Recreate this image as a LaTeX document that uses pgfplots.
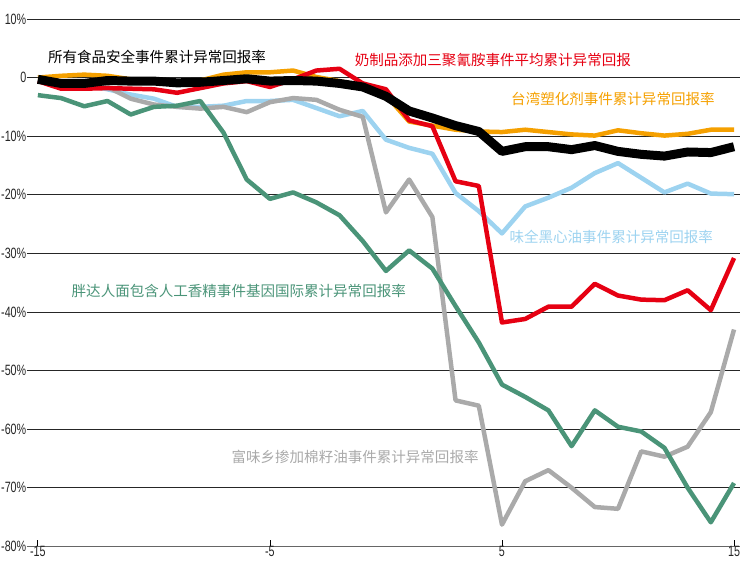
\documentclass[border=0pt]{standalone}
\usepackage{pgfplots}
\pgfplotsset{compat=1.18}
\usepackage{fontspec}
\newfontfamily\cjk{Noto Sans CJK SC}
\newfontfamily\cond[FakeStretch=0.72]{Liberation Sans}

\definecolor{cred}{HTML}{E60012}
\definecolor{corange}{HTML}{F5A000}
\definecolor{cblue}{HTML}{9DD3F0}
\definecolor{cgreen}{HTML}{4A9478}
\definecolor{cgray}{HTML}{AAAAAA}

\begin{document}
\begin{tikzpicture}
  \begin{axis}[
    at={(0,0)}, anchor=south west,
    scale only axis,
    width=714bp, height=528bp,
    xmin=-15.47, xmax=15.26,
    ymin=-80, ymax=10,
    axis x line=bottom,
    axis y line*=left,
    x axis line style={draw=black!60, line width=1pt, -},
    y axis line style={draw=none},
    xtick={-15,-5,5,15},
    xticklabels={-15,-5,5,15},
    tick align=inside,
    major tick length=6bp,
    xtick style={black, line width=0.8pt},
    ytick style={draw=none},
    ytick={-80,-70,...,10},
    yticklabels={-80\%,-70\%,-60\%,-50\%,-40\%,-30\%,-20\%,-10\%,0,10\%},
    ymajorgrids,
    grid style={black!85, line width=0.8pt},
    ticklabel style={font=\cond\fontsize{15}{15}\selectfont, text=black!85},
    yticklabel style={anchor=east, xshift=-0.5bp, inner sep=0pt},
    xticklabel style={yshift=1bp, inner sep=1pt},
    every axis plot/.append style={line join=round, no markers},
    clip=false,
  ]
    % 味全黑心油
    \addplot[cblue, line width=4.5bp] coordinates {
      (-15,-0.5) (-14,-1.0) (-13,-1.2) (-12,-2.0) (-11,-2.9) (-10,-3.6)
      (-9,-5.0) (-8,-5.0) (-7,-4.8) (-6,-4.0) (-5,-4.0) (-4,-3.8)
      (-3,-5.2) (-2,-6.6) (-1,-5.7) (0,-10.6) (1,-12.0) (2,-13.0)
      (3,-19.7) (4,-22.8) (5,-26.6) (6,-22.0) (7,-20.5) (8,-18.8)
      (9,-16.3) (10,-14.6) (11,-17.1) (12,-19.6) (13,-18.1) (14,-19.8) (15,-19.9)
    };
    % 富味乡
    \addplot[cgray, line width=4.5bp] coordinates {
      (-15,-0.5) (-14,-1.0) (-13,-1.0) (-12,-1.6) (-11,-3.6) (-10,-4.6)
      (-9,-5.0) (-8,-5.3) (-7,-5.0) (-6,-5.9) (-5,-4.2) (-4,-3.5)
      (-3,-3.8) (-2,-5.5) (-1,-6.7) (0,-23.0) (1,-17.4) (2,-23.8)
      (3,-55.1) (4,-56.0) (5,-76.3) (6,-68.9) (7,-67.0) (8,-70.0)
      (9,-73.3) (10,-73.6) (11,-63.8) (12,-64.7) (13,-63.0) (14,-57.1) (15,-43.0)
    };
    % 胖达人
    \addplot[cgreen, line width=4.5bp] coordinates {
      (-15,-3.0) (-14,-3.5) (-13,-4.9) (-12,-4.0) (-11,-6.3) (-10,-5.0)
      (-9,-4.8) (-8,-4.0) (-7,-9.4) (-6,-17.4) (-5,-20.7) (-4,-19.6)
      (-3,-21.3) (-2,-23.5) (-1,-27.9) (0,-33.0) (1,-29.5) (2,-32.6)
      (3,-39.0) (4,-45.2) (5,-52.4) (6,-54.5) (7,-56.8) (8,-62.9)
      (9,-56.8) (10,-59.6) (11,-60.4) (12,-63.2) (13,-70.0) (14,-75.9) (15,-69.2)
    };
    % 台湾塑化剂
    \addplot[corange, line width=4.5bp] coordinates {
      (-15,0.0) (-14,0.3) (-13,0.5) (-12,0.3) (-11,-0.3) (-10,-0.5)
      (-9,-0.8) (-8,-0.5) (-7,0.5) (-6,0.9) (-5,0.9) (-4,1.2)
      (-3,0.1) (-2,-0.6) (-1,-1.5) (0,-3.0) (1,-7.5) (2,-8.2)
      (3,-8.9) (4,-9.2) (5,-9.3) (6,-8.9) (7,-9.3) (8,-9.7)
      (9,-9.9) (10,-9.0) (11,-9.5) (12,-9.9) (13,-9.6) (14,-8.9) (15,-8.9)
    };
    % 三聚氰胺
    \addplot[cred, line width=4.5bp] coordinates {
      (-15,-0.6) (-14,-1.9) (-13,-1.9) (-12,-1.8) (-11,-1.9) (-10,-2.0)
      (-9,-2.6) (-8,-1.8) (-7,-1.0) (-6,-0.6) (-5,-1.6) (-4,-0.3)
      (-3,1.2) (-2,1.5) (-1,-1.0) (0,-2.0) (1,-7.3) (2,-8.3)
      (3,-17.7) (4,-18.5) (5,-41.8) (6,-41.2) (7,-39.1) (8,-39.1)
      (9,-35.2) (10,-37.2) (11,-37.9) (12,-38.0) (13,-36.3) (14,-39.7) (15,-30.8)
    };
    % 所有食品安全事件
    \addplot[black, line width=9bp] coordinates {
      (-15,-0.3) (-14,-1.0) (-13,-1.0) (-12,-0.5) (-11,-0.6) (-10,-0.6)
      (-9,-0.9) (-8,-0.8) (-7,-0.5) (-6,-0.2) (-5,-0.6) (-4,-0.5)
      (-3,-0.6) (-2,-1.0) (-1,-1.6) (0,-3.2) (1,-5.7) (2,-6.9)
      (3,-8.2) (4,-9.2) (5,-12.6) (6,-11.8) (7,-11.8) (8,-12.3)
      (9,-11.6) (10,-12.6) (11,-13.1) (12,-13.4) (13,-12.7) (14,-12.8) (15,-11.8)
    };

    \begin{scope}[every node/.style={anchor=west, inner sep=0pt, font=\cjk\fontsize{14.6}{14.6}\selectfont}]
      \node[black] at (axis cs:-14.57,3.58) {所有食品安全事件累计异常回报率};
      \node[cred] at (axis cs:-1.35,3.07) {奶制品添加三聚氰胺事件平均累计异常回报};
      \node[corange] at (axis cs:5.39,-3.58) {台湾塑化剂事件累计异常回报率};
      \node[cblue] at (axis cs:5.32,-27.2) {味全黑心油事件累计异常回报率};
      \node[cgreen] at (axis cs:-13.55,-36.5) {胖达人面包含人工香精事件基因国际累计异常回报率};
      \node[cgray] at (axis cs:-6.66,-64.7) {富味乡掺加棉籽油事件累计异常回报率};
    \end{scope}
  \end{axis}
  \path (-27bp,-18bp) rectangle (714bp,547bp);
\end{tikzpicture}
\end{document}
